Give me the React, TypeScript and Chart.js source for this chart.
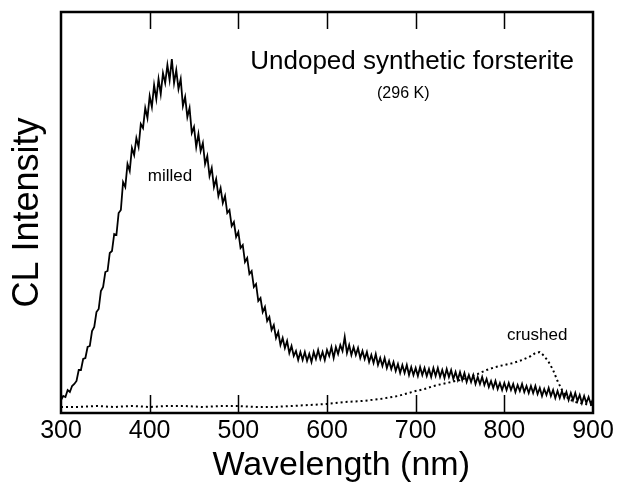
import React, { useEffect, useRef } from "react";
import { Chart, registerables } from "chart.js";

Chart.register(...registerables);

// ---- Data ----
const milledNm = [
  300, 302.5, 305, 307.5, 310, 312.5, 315, 317.5, 320, 322.5, 325, 327.5, 330, 332.5, 335, 337.5, 340, 342.5, 345, 347.5,
  350, 352.5, 355, 357.5, 360, 362.5, 365, 367.5, 370, 372.5, 375, 377.5, 380, 382.5, 385, 387.5, 390, 392.5, 395, 397.5,
  400, 402.5, 405, 407.5, 410, 412.5, 415, 417.5, 420, 422.5, 425, 427.5, 430, 432.5, 435, 437.5, 440, 442.5, 445, 447.5,
  450, 452.5, 455, 457.5, 460, 462.5, 465, 467.5, 470, 472.5, 475, 477.5, 480, 482.5, 485, 487.5, 490, 492.5, 495, 497.5,
  500, 502.5, 505, 507.5, 510, 512.5, 515, 517.5, 520, 522.5, 525, 527.5, 530, 532.5, 535, 537.5, 540, 542.5, 545, 547.5,
  550, 552.5, 555, 557.5, 560, 562.5, 565, 567.5, 570, 572.5, 575, 577.5, 580, 582.5, 585, 587.5, 590, 592.5, 595, 597.5,
  600, 602.5, 605, 607.5, 610, 612.5, 615, 617.5, 620, 622.5, 625, 627.5, 630, 632.5, 635, 637.5, 640, 642.5, 645, 647.5,
  650, 652.5, 655, 657.5, 660, 662.5, 665, 667.5, 670, 672.5, 675, 677.5, 680, 682.5, 685, 687.5, 690, 692.5, 695, 697.5,
  700, 702.5, 705, 707.5, 710, 712.5, 715, 717.5, 720, 722.5, 725, 727.5, 730, 732.5, 735, 737.5, 740, 742.5, 745, 747.5,
  750, 752.5, 755, 757.5, 760, 762.5, 765, 767.5, 770, 772.5, 775, 777.5, 780, 782.5, 785, 787.5, 790, 792.5, 795, 797.5,
  800, 802.5, 805, 807.5, 810, 812.5, 815, 817.5, 820, 822.5, 825, 827.5, 830, 832.5, 835, 837.5, 840, 842.5, 845, 847.5,
  850, 852.5, 855, 857.5, 860, 862.5, 865, 867.5, 870, 872.5, 875, 877.5, 880, 882.5, 885, 887.5, 890, 892.5, 895, 897.5,
  900,
];
const milledIntensity = [
  13, 17, 16, 23, 21, 27, 29, 32, 43, 43, 54, 55, 66, 67, 82, 86, 101, 104, 122, 126,
  141, 142, 160, 162, 179, 178, 200, 203, 231, 226, 249, 242, 265, 258, 275, 266, 289, 285, 305, 295,
  317, 306, 328, 314, 334, 319, 340, 330, 348, 333, 354, 330, 343, 324, 334, 307, 316, 296, 305, 280,
  286, 266, 279, 262, 270, 249, 257, 237, 245, 226, 234, 217, 225, 210, 217, 200, 203, 187, 191, 176,
  181, 165, 168, 151, 155, 139, 142, 126, 129, 112, 115, 101, 106, 92, 96, 83, 88, 75, 81, 68,
  75, 65, 72, 60, 67, 57, 62, 53, 61, 53, 61, 52, 59, 51, 61, 54, 63, 54, 61, 53,
  63, 57, 66, 55, 66, 59, 68, 62, 76, 60, 68, 58, 66, 58, 65, 55, 62, 54, 61, 51,
  58, 50, 59, 48, 55, 47, 55, 45, 52, 44, 51, 42, 49, 40, 48, 40, 48, 38, 46, 38,
  45, 37, 46, 38, 45, 37, 44, 36, 45, 37, 45, 36, 43, 35, 44, 36, 43, 34, 41, 33,
  41, 33, 40, 31, 38, 31, 38, 29, 36, 29, 36, 28, 34, 26, 32, 25, 32, 24, 30, 23,
  30, 23, 30, 23, 29, 21, 28, 22, 29, 21, 27, 20, 27, 20, 27, 19, 25, 17, 24, 18,
  25, 17, 23, 15, 22, 15, 22, 15, 21, 13, 20, 13, 20, 12, 18, 10, 17, 10, 16, 9,
  14,
];

const crushedNm = [
  300, 320, 340, 360, 380, 400, 420, 440, 460, 480, 500, 520, 540, 560, 580,
  600, 620, 640, 660, 680,
  700, 710, 720, 730, 740, 750, 760, 770, 780, 790, 800, 810, 820, 830,
  835, 840, 845, 850, 855, 860, 865, 870, 875, 880, 890, 900,
];
const crushedIntensity = [
  6, 6, 7, 6, 7, 6, 7, 7, 6, 7, 7, 6, 6, 7, 8,
  9, 11, 12, 14, 17,
  22, 24, 27, 29, 31, 33, 36, 39, 43, 46, 48, 50, 53, 57,
  60, 61, 57, 51, 43, 32, 23, 16, 13, 11, 9, 8,
];

const xTickMin = 300;
const xTickMax = 900;
const xTickStep = 100;

const xTitle = "Wavelength (nm)";
const yTitle = "CL Intensity";

const annotationTexts = ["Undoped synthetic forsterite", "(296 K)", "milled", "crushed"];
const annotationNm = [696, 686, 423, 837];
const annotationValue = [351, 319, 237, 78];

const FONT = '"Liberation Sans", Arial, Helvetica, sans-serif';
const annotationSizes = [26, 16, 17, 17];

const framePlugin = {
  id: "frameAndTicks",
  afterDatasetsDraw(chart: any) {
    const { ctx, chartArea, scales } = chart;
    const { left, right, top, bottom } = chartArea;
    const x = scales.x;
    const y = scales.y;
    ctx.save();
    ctx.strokeStyle = "#000";
    ctx.lineWidth = 1.5;
    x.ticks.forEach((t: any) => {
      if (t.value === x.min || t.value === x.max) return;
      const px = Math.round(x.getPixelForValue(t.value)) + 0.5;
      ctx.beginPath();
      ctx.moveTo(px, bottom);
      ctx.lineTo(px, bottom - 18);
      ctx.moveTo(px, top);
      ctx.lineTo(px, top + 17);
      ctx.stroke();
    });
    ctx.lineWidth = 2.5;
    ctx.strokeRect(left, top, right - left, bottom - top);

    ctx.fillStyle = "#000";
    ctx.textAlign = "center";
    ctx.textBaseline = "middle";
    annotationTexts.forEach((txt, i) => {
      ctx.font = `${annotationSizes[i]}px ${FONT}`;
      ctx.fillText(txt, x.getPixelForValue(annotationNm[i]), y.getPixelForValue(annotationValue[i]));
    });

    // x-axis title (slightly right of centre, as in the reference)
    ctx.font = `34px ${FONT}`;
    ctx.textBaseline = "alphabetic";
    ctx.fillText(xTitle, x.getPixelForValue(616), bottom + 62);
    ctx.restore();
  },
};

export default function App() {
  const canvasRef = useRef<HTMLCanvasElement | null>(null);

  useEffect(() => {
    document.body.style.margin = "0";
    const canvas = canvasRef.current;
    if (!canvas) return;
    const chart = new Chart(canvas, {
      type: "line",
      data: {
        datasets: [
          {
            label: "milled",
            data: milledNm.map((nm, i) => ({ x: nm, y: milledIntensity[i] })),
            borderColor: "#000",
            borderWidth: 1.8,
            pointRadius: 0,
            tension: 0,
            fill: false,
          },
          {
            label: "crushed",
            data: crushedNm.map((nm, i) => ({ x: nm, y: crushedIntensity[i] })),
            borderColor: "#000",
            borderWidth: 2,
            borderDash: [2, 3],
            pointRadius: 0,
            tension: 0,
            fill: false,
          },
        ],
      },
      options: {
        responsive: false,
        animation: false,
        layout: { padding: { top: 12, right: 26, left: 0, bottom: 0 } },
        plugins: {
          legend: { display: false },
          tooltip: { enabled: false },
        },
        scales: {
          x: {
            type: "linear",
            min: xTickMin,
            max: xTickMax,
            afterFit: (s: any) => {
              s.height = 72;
            },
            border: { display: false },
            grid: { display: false, drawTicks: false, tickLength: 0 },
            ticks: {
              stepSize: xTickStep,
              padding: 3,
              color: "#000",
              maxRotation: 0,
              font: { family: FONT, size: 25 },
            },
            title: { display: false },
          },
          y: {
            min: 0,
            max: 401,
            afterFit: (s: any) => {
              s.width = 61;
            },
            border: { display: false },
            grid: { display: false, drawTicks: false },
            ticks: { display: false },
            title: {
              display: true,
              text: yTitle,
              color: "#000",
              font: { family: FONT, size: 36 },
              padding: { top: 6, bottom: 0 },
            },
          },
        },
      },
      plugins: [framePlugin],
    } as any);
    return () => chart.destroy();
  }, []);

  return (
    <div style={{ width: 619, height: 485, background: "#fff" }}>
      <canvas ref={canvasRef} width={619} height={485} style={{ display: "block" }} />
    </div>
  );
}
